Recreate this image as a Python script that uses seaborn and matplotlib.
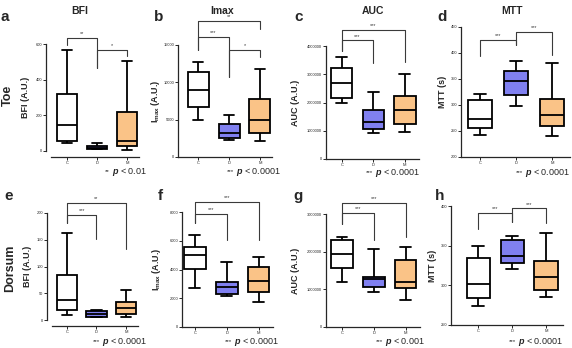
import numpy as np
import pandas as pd
import seaborn as sns
import matplotlib
matplotlib.use('Agg')
import matplotlib.pyplot as plt

groups = ['C', 'D', 'M']

# box values: min, q1, median, q3, max
bfi_toe_c = [47, 56, 146, 319, 568]
bfi_toe_d = [9, 10, 19, 30, 47]
bfi_toe_m = [6, 30, 58, 216, 503]

imax_toe_c = [4900, 6720, 8950, 11440, 12770]
imax_toe_d = [2310, 2490, 3160, 4410, 5560]
imax_toe_m = [2180, 3250, 4940, 7830, 11750]

auc_toe_c = [1976000, 2153000, 2706000, 3235000, 3610000]
auc_toe_d = [906000, 1047000, 1294000, 1729000, 2376000]
auc_toe_m = [965000, 1224000, 1741000, 2235000, 3020000]

mtt_toe_c = [242, 256, 274, 309, 321]
mtt_toe_d = [298, 320, 346, 365, 384]
mtt_toe_m = [240, 259, 281, 312, 381]

bfi_dor_c = [9, 19, 37, 84, 163]
bfi_dor_d = [5, 6, 12, 17, 18]
bfi_dor_m = [5, 12, 22, 34, 56]

imax_dor_c = [2730, 4035, 5015, 5600, 6410]
imax_dor_d = [2150, 2290, 2800, 3150, 4500]
imax_dor_m = [1750, 2450, 3200, 4150, 4900]

auc_dor_c = [1204000, 1575000, 1938000, 2310000, 2398000]
auc_dor_d = [920000, 1053000, 1265000, 1336000, 2070000]
auc_dor_m = [717000, 1027000, 1186000, 1779000, 2115000]

mtt_dor_c = [274, 284, 302, 334, 350]
mtt_dor_d = [321, 328, 337, 357, 362]
mtt_dor_m = [285, 294, 310, 331, 366]

col_titles = ['BFI', 'Imax', 'AUC', 'MTT']
row_names = ['Toe', 'Dorsum']
letters = ['a', 'b', 'c', 'd', 'e', 'f', 'g', 'h']
p_values = ['< 0.01', '< 0.0001', '< 0.0001', '< 0.0001',
            '< 0.0001', '< 0.0001', '< 0.001', '< 0.0001']
p_stars = ['**', '***', '***', '***', '***', '***', '***', '***']

# significance brackets: (group i, group j, bar height, left leg end, right leg end, label)
brackets_a = [(0, 1, 634, 596, 465, '**'), (1, 2, 568, 465, 531, '*')]
brackets_b = [(0, 2, 18250, 14330, 17090, '**'), (0, 1, 16110, 14330, 10680, '***'),
              (1, 2, 14330, 10680, 13440, '*')]
brackets_c = [(0, 2, 4.58e6, 3.82e6, 3.44e6, '***'), (0, 1, 4.2e6, 3.82e6, 3.4e6, '***')]
brackets_d = [(0, 1, 425.6, 393.6, 414.7, '***'), (1, 2, 440.4, 414.7, 395.5, '***')]
brackets_e = [(0, 2, 219, 181, 133, '**'), (0, 1, 197, 181, 151, '***')]
brackets_f = [(0, 2, 8700, 7230, 6060, '***'), (0, 1, 7880, 7230, 6060, '***')]
brackets_g = [(0, 2, 3.30e6, 2.735e6, 2.40e6, '***'), (0, 1, 3.035e6, 2.735e6, 2.31e6, '***')]
brackets_h = [(0, 1, 390.8, 370.6, 380.2, '***'), (1, 2, 397, 380.2, 379, '***')]

W, H = 572, 348
pal = {'C': '#FFFFFF', 'D': '#8080F0', 'M': '#FAC387'}
ink = '#3a3a3a'

sns.set_style('ticks')
plt.rcParams['font.family'] = ['Liberation Sans', 'DejaVu Sans']
plt.rcParams['mathtext.fontset'] = 'custom'
plt.rcParams['mathtext.rm'] = 'Liberation Sans'
plt.rcParams['mathtext.bf'] = 'Liberation Sans:bold'
plt.rcParams['mathtext.it'] = 'Liberation Sans:italic:bold'

imax_label = r'$\mathbf{I}_{\mathbf{max}}$ (A.U.)'

# layout in pixels: left, right, top (ymax), bottom (ymin)
panels = [
    dict(data=(bfi_toe_c, bfi_toe_d, bfi_toe_m), rect=(51, 139, 44, 151), ylim=(0, 600),
         yticks=[0, 200, 400, 600], xlim=(-0.53, 2.4), ylabel='BFI (A.U.)', lab_x=30,
         gap=True, br=brackets_a, pend=(147, 172)),
    dict(data=(imax_toe_c, imax_toe_d, imax_toe_m), rect=(178, 272, 45, 157), ylim=(0, 15000),
         yticks=[0, 5000, 10000, 15000], xlim=(-0.65, 2.39), ylabel=imax_label, lab_x=162,
         gap=False, br=brackets_b, pend=(281, 172)),
    dict(data=(auc_toe_c, auc_toe_d, auc_toe_m), rect=(326, 419, 46, 159), ylim=(0, 4e6),
         yticks=[0, 1000000, 2000000, 3000000, 4000000], xlim=(-0.5, 2.45), ylabel='AUC (A.U.)',
         lab_x=300, gap=False, br=brackets_c, pend=(420, 173)),
    dict(data=(mtt_toe_c, mtt_toe_d, mtt_toe_m), rect=(461, 570, 27, 157), ylim=(200, 450),
         yticks=[200, 250, 300, 350, 400, 450], xlim=(-0.53, 2.5), ylabel='MTT (s)', lab_x=447,
         gap=False, br=brackets_d, pend=(570, 173)),
    dict(data=(bfi_dor_c, bfi_dor_d, bfi_dor_m), rect=(52, 138, 213, 320), ylim=(0, 200),
         yticks=[0, 50, 100, 150, 200], xlim=(-0.5, 2.4), ylabel='BFI (A.U.)', lab_x=32,
         gap=True, br=brackets_e, pend=(147, 342)),
    dict(data=(imax_dor_c, imax_dor_d, imax_dor_m), rect=(182, 273, 212, 327), ylim=(0, 8000),
         yticks=[0, 2000, 4000, 6000, 8000], xlim=(-0.4, 2.45), ylabel=imax_label, lab_x=163,
         gap=False, br=brackets_f, pend=(279, 342)),
    dict(data=(auc_dor_c, auc_dor_d, auc_dor_m), rect=(326, 420, 214, 327), ylim=(0, 3e6),
         yticks=[0, 1000000, 2000000, 3000000], xlim=(-0.5, 2.45), ylabel='AUC (A.U.)',
         lab_x=300, gap=False, br=brackets_g, pend=(425, 342)),
    dict(data=(mtt_dor_c, mtt_dor_d, mtt_dor_m), rect=(451, 563, 206, 325), ylim=(250, 400),
         yticks=[250, 300, 350, 400], xlim=(-0.8, 2.5), ylabel='MTT (s)', lab_x=437,
         gap=False, br=brackets_h, pend=(563, 342)),
]
title_x = [80, 222, 373, 512]
letter_xy = [(5, 21), (159, 21), (299, 21), (442, 21), (9, 200), (160, 200), (298, 200), (440, 200)]


def px_rect(left, right, top, bottom):
    return [left / W, 1 - bottom / H, (right - left) / W, (bottom - top) / H]


def draw_panel(fig, spec):
    left, right, top, bottom = spec['rect']
    ax = fig.add_axes(px_rect(left, right, top, bottom))
    df = pd.DataFrame({'group': np.repeat(groups, 5),
                       'value': np.concatenate(spec['data'])})
    sns.boxplot(data=df, x='group', y='value', hue='group', palette=pal, saturation=1,
                whis=(0, 100), width=0.68, linewidth=1.3, linecolor='black',
                fliersize=0, legend=False, ax=ax)
    ax.set_xlim(*spec['xlim'])
    ax.set_ylim(*spec['ylim'])
    ax.set_yticks(spec['yticks'])
    ax.set_yticklabels([str(int(t)) for t in spec['yticks']])
    ax.set_xlabel('')
    ax.set_ylabel(spec['ylabel'], fontsize=6.5, fontweight='bold')
    ax.yaxis.set_label_coords((spec['lab_x'] - left) / (right - left), 0.5)
    sns.despine(ax=ax)
    for s in ['left', 'bottom']:
        ax.spines[s].set_linewidth(0.9)
    if spec['gap']:
        ax.spines['left'].set_position(('outward', 3.5))
        ax.spines['bottom'].set_position(('outward', 4.3))
    ax.tick_params(axis='both', length=2, width=0.7, labelsize=2.9, pad=0.8)

    span = spec['ylim'][1] - spec['ylim'][0]
    for i, j, h, yl, yr, lab in spec['br']:
        ax.plot([i, i, j, j], [yl, h, h, yr], color=ink, lw=0.8, clip_on=False)
        ax.text((i + j) / 2, h + span * 0.015, lab, ha='center', va='bottom',
                fontsize=4, color=ink, clip_on=False)
    return ax


fig = plt.figure(figsize=(W / 100, H / 100), dpi=100)

for spec in panels:
    draw_panel(fig, spec)

for k, t in enumerate(col_titles):
    fig.text(title_x[k] / W, 1 - 10.5 / H, t, ha='center', va='center',
             fontsize=7.5, fontweight='bold')

for k, (x, y) in enumerate(letter_xy):
    fig.text(x / W, 1 - y / H, letters[k], ha='center', va='baseline',
             fontsize=11, fontweight='bold')

fig.text(8 / W, 1 - 95 / H, row_names[0], rotation=90, ha='center', va='center',
         fontsize=9, fontweight='bold')
fig.text(10 / W, 1 - 268 / H, row_names[1], rotation=90, ha='center', va='center',
         fontsize=9, fontweight='bold')

p_texts = []
for k, spec in enumerate(panels):
    x, y = spec['pend']
    t = fig.text(x / W, 1 - y / H, r'$p$ ' + p_values[k], ha='right', va='center',
                 fontsize=6.5)
    p_texts.append((t, y))

fig.canvas.draw()
renderer = fig.canvas.get_renderer()
for k, (t, y) in enumerate(p_texts):
    bb = t.get_window_extent(renderer)
    fig.text((bb.x0 - 2) / W, 1 - (y - 0.5) / H, p_stars[k], ha='right', va='center',
             fontsize=4.5)

fig.savefig('out.png', dpi=100)
